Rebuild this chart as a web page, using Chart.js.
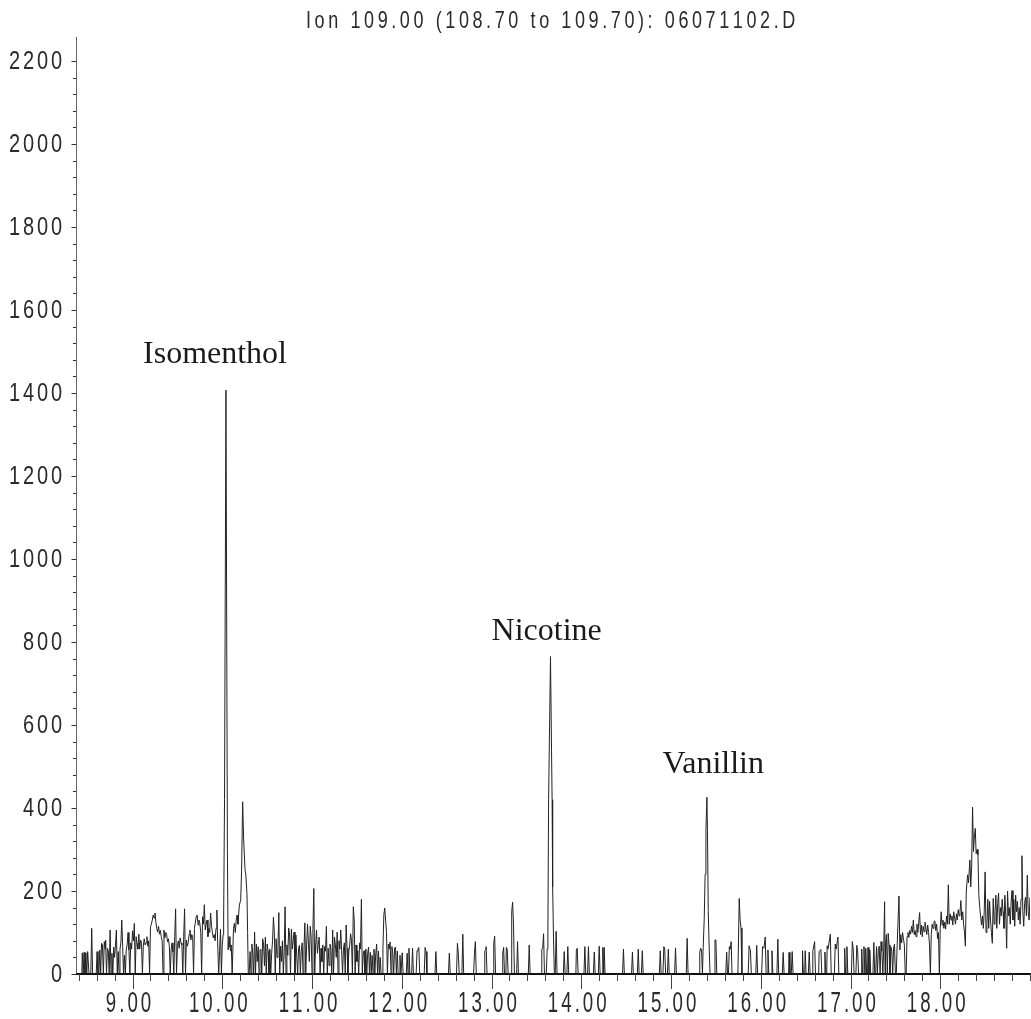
<!DOCTYPE html>
<html>
<head>
<meta charset="utf-8">
<script src="https://cdn.jsdelivr.net/npm/chart.js@4/dist/chart.umd.min.js"></script>
<style>
  html, body { margin: 0; padding: 0; background: #fff; }
  #wrap { width: 1031px; height: 1019px; }
</style>
</head>
<body>
<div id="wrap"><canvas id="tic" width="1031" height="1019"></canvas></div>
<script>
// ---- Extracted ion chromatogram, m/z 109 ----
const chartTitle = 'Ion 109.00 (108.70 to 109.70): 06071102.D';
const timeTicks = [9, 10, 11, 12, 13, 14, 15, 16, 17, 18];
const abundanceTicks = [0, 200, 400, 600, 800, 1000, 1200, 1400, 1600, 1800, 2000, 2200];

const peakNames = ['Isomenthol', 'Nicotine', 'Vanillin'];
const peakLabelTimes = [9.919, 13.614, 15.471];
const peakLabelAbundance = [1472, 805, 485];

// [retention time (min), abundance]
const scans08to10 = [
  [8.37,0],[8.435,0],[8.44,51],[8.45,0],[8.46,52],[8.47,0],[8.48,51],[8.49,0],[8.50,54],[8.515,0],
  [8.535,0],[8.545,110],[8.555,0],[8.595,0],[8.605,54],[8.615,0],[8.625,0],[8.635,58],[8.645,0],
  [8.655,74],[8.665,70],[8.675,0],[8.685,78],[8.695,60],[8.70,82],[8.71,0],[8.72,62],[8.73,56],[8.74,0],
  [8.75,106],[8.76,0],[8.77,50],[8.78,0],[8.79,65],[8.80,40],[8.81,70],[8.82,106],[8.83,0],[8.84,54],
  [8.85,0],[8.86,60],[8.87,75],[8.88,130],[8.89,67],[8.90,0],[8.91,45],[8.92,0],[8.93,60],[8.94,70],
  [8.95,100],[8.96,58],[8.97,0],[8.98,75],[8.99,60],[9.00,104],[9.01,80],[9.02,122],[9.03,0],[9.04,90],
  [9.05,74],[9.06,60],[9.07,96],[9.08,60],[9.09,82],[9.10,74],[9.11,0],[9.12,67],[9.13,85],[9.14,70],
  [9.15,75],[9.16,90],[9.17,67],[9.18,80],[9.19,0],[9.20,114],[9.21,120],[9.22,130],[9.23,142],
  [9.24,135],[9.25,147],[9.26,125],[9.27,110],[9.28,101],[9.29,115],[9.30,96],[9.31,105],[9.32,90],
  [9.33,80],[9.34,0],[9.35,106],[9.36,87],[9.37,100],[9.38,95],[9.39,77],[9.40,85],[9.41,67],[9.42,0],
  [9.43,58],[9.44,75],[9.45,53],[9.46,0],[9.47,90],[9.48,157],[9.49,0],[9.50,67],[9.51,80],[9.52,62],
  [9.53,87],[9.54,75],[9.55,70],[9.56,0],[9.57,90],[9.58,157],[9.59,0],[9.60,82],[9.61,67],[9.62,75],
  [9.63,95],[9.64,106],[9.65,82],[9.66,95],[9.67,90],[9.68,0],[9.69,110],[9.70,125],[9.71,138],
  [9.72,142],[9.73,118],[9.74,130],[9.75,122],[9.76,100],[9.77,0],[9.78,138],[9.79,120],[9.80,167],
  [9.81,106],[9.82,120],[9.83,130],[9.84,90],[9.85,110],[9.86,100],[9.87,147],[9.88,115],[9.89,100],
  [9.90,87],[9.91,95],[9.92,80],[9.93,110],[9.94,154],[9.95,62],[9.96,0],[9.97,55],[9.98,108],
  [9.99,0],[10.00,70],[10.01,95],[10.015,130]
];

const isomentholPeak = [
  [10.025,420],[10.041,1407],[10.057,300],[10.065,58],[10.075,90],
  [10.085,65],[10.095,55],[10.10,70],[10.11,0],[10.125,110],[10.135,122],[10.145,100],[10.155,130],
  [10.165,142],[10.175,120],[10.19,166],[10.205,178],[10.215,250],[10.227,415],[10.237,330],
  [10.253,252],[10.262,240],[10.275,194],[10.282,100],[10.29,0]
];

const scans10to12 = [
  [10.30,0],[10.31,54],[10.32,0],[10.33,72],[10.34,48],[10.35,0],[10.36,101],[10.37,0],[10.38,72],
  [10.39,30],[10.40,66],[10.41,0],[10.42,58],[10.43,60],[10.44,0],[10.45,85],[10.46,72],[10.47,20],
  [10.48,89],[10.49,0],[10.50,72],[10.51,55],[10.52,0],[10.53,60],[10.54,0],[10.55,50],[10.56,80],
  [10.57,137],[10.58,101],[10.59,0],[10.60,85],[10.61,40],[10.62,60],[10.63,148],[10.64,0],[10.65,67],
  [10.66,30],[10.67,80],[10.68,0],[10.69,55],[10.70,162],[10.71,0],[10.72,70],[10.73,45],[10.74,111],
  [10.75,94],[10.76,0],[10.77,108],[10.78,60],[10.79,80],[10.80,101],[10.81,0],[10.82,94],[10.83,40],
  [10.84,0],[10.85,62],[10.86,69],[10.87,0],[10.88,55],[10.89,75],[10.90,0],[10.91,60],[10.92,123],
  [10.93,0],[10.94,70],[10.95,120],[10.96,72],[10.97,30],[10.98,115],[10.99,90],[11.00,0],[11.01,110],
  [11.02,206],[11.03,0],[11.04,70],[11.05,106],[11.06,50],[11.07,72],[11.08,89],[11.09,0],[11.10,62],
  [11.11,30],[11.12,70],[11.13,0],[11.14,66],[11.15,55],[11.16,115],[11.17,0],[11.18,62],[11.19,20],
  [11.20,72],[11.21,60],[11.22,0],[11.23,106],[11.24,0],[11.25,89],[11.26,70],[11.27,40],[11.28,101],
  [11.29,0],[11.30,80],[11.31,60],[11.32,106],[11.33,56],[11.34,0],[11.35,60],[11.36,75],[11.37,0],
  [11.38,118],[11.39,62],[11.40,0],[11.41,55],[11.42,70],[11.43,97],[11.44,80],[11.45,0],[11.46,162],
  [11.47,130],[11.48,0],[11.49,70],[11.50,30],[11.51,56],[11.52,0],[11.53,75],[11.54,60],[11.55,180],
  [11.56,0],[11.57,45],[11.58,56],[11.59,0],[11.60,60],[11.61,0],[11.62,50],[11.63,65],[11.64,0],
  [11.65,52],[11.66,0],[11.67,45],[11.68,0],[11.69,60],[11.70,0],[11.71,50],[11.72,72],[11.73,0],
  [11.74,55],[11.75,0],[11.76,40],[11.77,0],[11.78,0],[11.79,60],[11.80,142],[11.81,159],[11.82,130],
  [11.83,100],[11.84,0],[11.85,72],[11.86,60],[11.87,77],[11.88,0],[11.89,66],[11.90,50],[11.91,0],
  [11.92,62],[11.93,65],[11.94,0],[11.95,55],[11.96,0]
];

const scans12to14 = [
  [11.97,0],[11.98,45],[11.99,0],[12.005,51],[12.015,0],[12.05,0],[12.06,50],[12.07,0],[12.08,62],
  [12.09,0],[12.11,0],[12.12,62],[12.13,0],[12.16,0],[12.17,56],[12.18,60],[12.19,64],[12.20,0],
  [12.25,0],[12.26,64],[12.27,54],[12.28,0],[12.37,0],[12.38,54],[12.39,0],[12.52,0],[12.53,50],
  [12.54,0],[12.61,0],[12.62,74],[12.63,50],[12.64,0],[12.67,0],[12.68,96],[12.69,0],[12.80,0],
  [12.81,50],[12.82,78],[12.83,0],[12.92,0],[12.925,56],[12.935,58],[12.94,66],[12.95,0],[13.02,0],
  [13.025,74],[13.035,91],[13.045,0],[13.12,0],[13.125,50],[13.135,64],[13.145,0],[13.16,0],[13.165,64],
  [13.175,60],[13.185,0],[13.22,0],[13.225,150],[13.235,173],[13.245,120],[13.255,0],[13.28,0],
  [13.29,78],[13.30,0],[13.41,0],[13.42,70],[13.43,0],[13.555,0],[13.56,60],[13.57,62],[13.58,97],
  [13.59,0],[13.61,0]
];

const nicotinePeak = [
  [13.62,60],[13.628,100],[13.636,420],[13.657,765],[13.675,420],
  [13.681,210],[13.69,94],[13.70,0],[13.71,0],[13.72,103],[13.73,0]
];

const scans14to15 = [
  [13.80,0],[13.81,54],[13.82,0],[13.84,0],[13.85,66],[13.86,0],[13.94,0],[13.945,58],[13.955,62],
  [13.965,0],[14.03,0],[14.04,66],[14.05,0],[14.07,0],[14.08,66],[14.09,0],[14.135,0],[14.145,53],
  [14.155,0],[14.19,0],[14.20,67],[14.21,0],[14.235,0],[14.24,64],[14.25,0],[14.255,64],[14.265,0],
  [14.46,0],[14.47,60],[14.48,0],[14.56,0],[14.57,53],[14.58,0],[14.625,0],[14.635,60],[14.645,0],
  [14.67,0],[14.68,56],[14.69,0],[14.87,0],[14.88,56],[14.89,0],[14.91,0],[14.92,66],[14.93,60],
  [14.94,0],[14.96,0],[14.97,60],[14.98,0],[15.04,0],[15.05,63],[15.06,0],[15.17,0],[15.18,86],
  [15.19,0],[15.315,0],[15.32,52],[15.33,62],[15.34,58],[15.35,0]
];

const vanillinPeak = [
  [15.357,55],[15.37,133],[15.38,240],[15.389,347],[15.40,426],[15.407,330],[15.415,150],
  [15.426,58],[15.435,0]
];

const scans15to17 = [
  [15.48,0],[15.49,82],[15.50,82],[15.51,0],[15.61,0],[15.62,53],[15.63,0],[15.64,0],[15.65,66],
  [15.66,60],[15.67,78],[15.68,0],[15.745,0],[15.755,120],[15.76,182],[15.77,130],[15.78,111],[15.79,0],
  [15.86,0],[15.87,68],[15.885,56],[15.895,0],[15.945,0],[15.955,69],[15.965,0],[16.01,0],[16.02,66],
  [16.035,62],[16.05,89],[16.06,0],[16.07,0],[16.08,58],[16.09,0],[16.12,0],[16.125,56],[16.135,0],
  [16.18,0],[16.19,84],[16.20,0],[16.24,0],[16.25,52],[16.26,0],[16.31,0],[16.315,52],[16.325,0],
  [16.34,0],[16.35,54],[16.36,0],[16.46,0],[16.465,56],[16.475,0],[16.49,0],[16.495,56],[16.505,0],
  [16.53,0],[16.54,53],[16.55,0],[16.575,0],[16.58,56],[16.60,78],[16.61,0],[16.645,0],[16.65,54],
  [16.67,59],[16.68,0],[16.71,0],[16.715,53],[16.725,0],[16.735,0],[16.74,68],[16.75,60],[16.775,96],
  [16.785,0],[16.82,0],[16.83,72],[16.84,60],[16.86,89],[16.87,0],[16.93,0],[16.935,62],[16.945,0],
  [16.955,0],[16.96,66],[16.97,0],[17.01,0],[17.02,78],[17.03,62],[17.04,0],[17.06,0],[17.07,69],
  [17.08,53],[17.09,0],[17.12,0],[17.125,60],[17.135,0],[17.145,0],[17.15,66],[17.16,0],[17.165,0],
  [17.17,62],[17.18,0],[17.19,0],[17.195,64],[17.205,0],[17.21,0],[17.215,58],[17.225,0],[17.25,0],
  [17.26,76],[17.27,0]
];

const scans17to19 = [
  [17.28,0],[17.29,66],[17.30,0],[17.31,58],[17.32,67],[17.33,0],[17.34,78],[17.35,55],[17.36,0],
  [17.37,60],[17.38,174],[17.385,0],[17.39,70],[17.40,95],[17.41,0],[17.42,98],[17.43,70],[17.44,0],
  [17.45,65],[17.46,55],[17.47,0],[17.48,62],[17.49,72],[17.50,0],[17.51,0],[17.52,70],[17.54,188],
  [17.55,58],[17.56,95],[17.57,75],[17.58,100],[17.59,85],[17.60,70],[17.61,0],[17.62,0],[17.63,90],
  [17.64,100],[17.65,88],[17.66,105],[17.67,96],[17.68,115],[17.69,100],[17.70,130],[17.71,95],
  [17.72,105],[17.73,90],[17.74,120],[17.75,100],[17.77,148],[17.78,95],[17.79,118],[17.80,90],
  [17.81,115],[17.82,102],[17.83,125],[17.84,110],[17.85,95],[17.86,118],[17.87,100],[17.88,70],
  [17.89,0],[17.90,95],[17.91,120],[17.92,110],[17.93,126],[17.94,128],[17.95,105],[17.96,120],
  [17.97,85],[17.98,100],[17.99,0],[18.00,110],[18.01,150],[18.02,118],[18.03,130],[18.04,110],
  [18.05,125],[18.06,108],[18.07,140],[18.08,120],[18.09,215],[18.10,120],[18.11,145],[18.12,130],
  [18.13,140],[18.14,118],[18.15,150],[18.16,135],[18.17,120],[18.18,145],[18.19,130],[18.20,155],
  [18.21,140],[18.22,150],[18.23,177],[18.24,130],[18.25,150],[18.26,120],[18.27,100],[18.28,67],
  [18.29,200],[18.305,239],[18.315,220],[18.33,275],[18.34,210],[18.35,260],[18.36,402],[18.37,295],
  [18.38,330],[18.39,351],[18.40,290],[18.41,300],[18.42,287],[18.43,190],[18.44,160],[18.45,138],
  [18.46,118],[18.47,140],[18.48,110],[18.49,150],[18.50,246],[18.51,100],[18.52,120],[18.53,180],
  [18.54,110],[18.55,175],[18.56,130],[18.57,100],[18.58,74],[18.59,182],[18.60,120],[18.61,150],
  [18.62,190],[18.63,110],[18.64,170],[18.65,195],[18.66,120],[18.67,160],[18.68,140],[18.69,180],
  [18.70,150],[18.71,110],[18.72,190],[18.73,140],[18.74,62],[18.75,200],[18.76,140],[18.77,160],
  [18.78,120],[18.79,175],[18.80,201],[18.81,130],[18.82,180],[18.83,115],[18.84,190],[18.85,150],
  [18.86,175],[18.87,130],[18.88,160],[18.89,120],[18.90,180],[18.91,285],[18.92,150],[18.93,115],
  [18.94,170],[18.95,185],[18.96,140],[18.97,238],[18.98,150],[18.99,130],[19.00,185]
];

// merge all segments into one time-ordered trace
const trace = [].concat(
  scans08to10, isomentholPeak, scans10to12, scans12to14, nicotinePeak,
  scans14to15, vanillinPeak, scans15to17, scans17to19
).map(([t, a]) => ({ x: t, y: a })).sort((p, q) => p.x - q.x);

// Draws text glyph by glyph with a horizontal squeeze and extra tracking.
function trackedText(ctx, text, x, y, o) {
  ctx.save();
  ctx.font = o.font;
  ctx.fillStyle = o.color || '#2b2b2b';
  ctx.textAlign = 'left';
  ctx.textBaseline = 'alphabetic';
  const chars = [...text];
  const adv = chars.map(ch => ctx.measureText(ch).width * o.sx);
  const total = adv.reduce((s, w) => s + w, 0) + o.gap * (chars.length - 1);
  let cx = o.align === 'right' ? x - total : o.align === 'center' ? x - total / 2 : x;
  chars.forEach((ch, i) => {
    ctx.save();
    ctx.translate(cx, y);
    ctx.scale(o.sx, 1);
    ctx.fillText(ch, 0, 0);
    ctx.restore();
    cx += adv[i] + o.gap;
  });
  ctx.restore();
}

const sansFamily = '"Liberation Sans", Arial, sans-serif';

const axesPlugin = {
  id: 'chemstationAxes',
  afterDatasetsDraw(chart) {
    const { ctx, chartArea: a, scales: { x, y } } = chart;
    ctx.save();

    // y axis line and ticks
    ctx.strokeStyle = '#666';
    ctx.lineWidth = 1;
    ctx.beginPath();
    ctx.moveTo(a.left + 0.5, a.top);
    ctx.lineTo(a.left + 0.5, a.bottom);
    ctx.stroke();
    ctx.strokeStyle = '#333';
    ctx.beginPath();
    for (let v = 0; v <= 2200; v += 40) {
      const py = Math.round(y.getPixelForValue(v)) + 0.5;
      const len = v % 200 === 0 ? 4.5 : 3;
      ctx.moveTo(a.left - len, py);
      ctx.lineTo(a.left, py);
    }
    ctx.stroke();

    // x axis line and ticks
    ctx.strokeStyle = '#111';
    ctx.lineWidth = 2;
    ctx.beginPath();
    ctx.moveTo(a.left, a.bottom);
    ctx.lineTo(a.right + 1, a.bottom);
    ctx.stroke();
    ctx.lineWidth = 1;
    ctx.strokeStyle = '#444';
    ctx.beginPath();
    for (let k = 42; k <= 95; k++) {
      const v = k / 5;
      const px = Math.round(x.getPixelForValue(v)) + 0.5;
      const len = k % 5 === 0 && v < 19 ? 15 : 7;
      ctx.moveTo(px, a.bottom);
      ctx.lineTo(px, a.bottom + len);
    }
    ctx.stroke();

    // tick labels
    y.ticks.forEach(t => {
      trackedText(ctx, String(t.value), 62, y.getPixelForValue(t.value) + 8,
        { font: '25px ' + sansFamily, sx: 0.8, gap: 2.8, align: 'right' });
    });
    x.ticks.forEach(t => {
      trackedText(ctx, t.value.toFixed(2), x.getPixelForValue(t.value) - 4, 1012,
        { font: '29px ' + sansFamily, sx: 0.645, gap: 3.0, align: 'center' });
    });

    // title
    trackedText(ctx, chartTitle, 306, 28,
      { font: '24px ' + sansFamily, sx: 0.75, gap: 3.6, align: 'left' });

    // compound names
    ctx.font = '32px "Liberation Serif", "Times New Roman", serif';
    ctx.fillStyle = '#1a1a1a';
    ctx.textAlign = 'center';
    ctx.textBaseline = 'alphabetic';
    peakNames.forEach((name, i) => {
      ctx.fillText(name, x.getPixelForValue(peakLabelTimes[i]), y.getPixelForValue(peakLabelAbundance[i]));
    });
    ctx.restore();
  }
};

new Chart(document.getElementById('tic'), {
  type: 'line',
  data: {
    datasets: [{
      data: trace,
      borderColor: '#222',
      borderWidth: 1,
      pointRadius: 0,
      tension: 0,
      fill: false
    }]
  },
  options: {
    responsive: false,
    devicePixelRatio: 1,
    animation: false,
    parsing: false,
    normalized: true,
    layout: { padding: { top: 37, right: 1, left: 0, bottom: 0 } },
    plugins: { legend: { display: false }, title: { display: false }, tooltip: { enabled: false } },
    scales: {
      x: {
        type: 'linear', min: 8.37, max: 19.0,
        grid: { display: false, drawTicks: false }, border: { display: false },
        ticks: { display: false },
        afterBuildTicks: s => { s.ticks = timeTicks.map(v => ({ value: v })); },
        afterFit: s => { s.height = 45; }
      },
      y: {
        type: 'linear', min: 0, max: 2258,
        grid: { display: false, drawTicks: false }, border: { display: false },
        ticks: { display: false },
        afterBuildTicks: s => { s.ticks = abundanceTicks.map(v => ({ value: v })); },
        afterFit: s => { s.width = 76; }
      }
    }
  },
  plugins: [axesPlugin]
});
</script>
</body>
</html>
